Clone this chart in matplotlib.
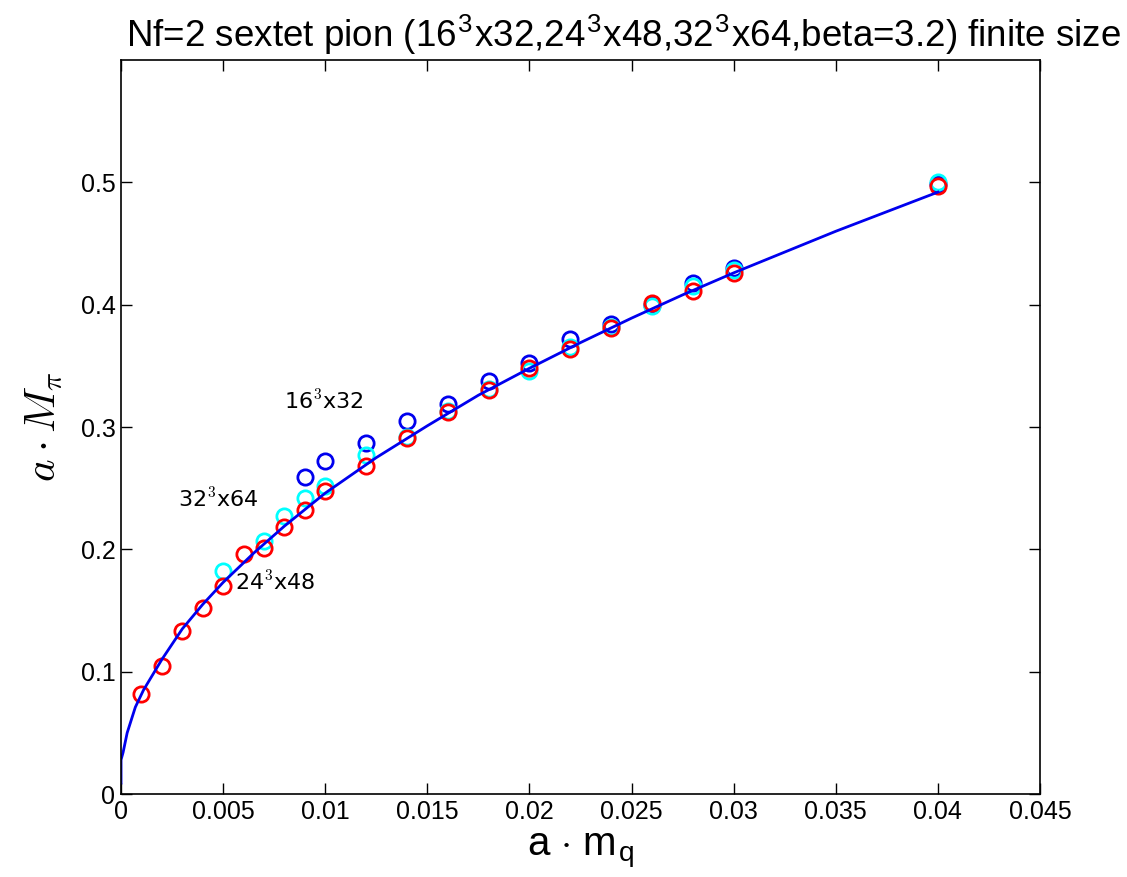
import matplotlib
matplotlib.use("Agg")
import matplotlib.pyplot as plt

plt.rcParams['font.family'] = ['Liberation Sans', 'DejaVu Sans']
plt.rcParams['mathtext.fontset'] = 'cm'

# quark mass values
mq_16 = [0.009, 0.010, 0.012, 0.014, 0.016, 0.018, 0.020, 0.022, 0.024, 0.026, 0.028, 0.030, 0.040]
mpi_16 = [0.259, 0.272, 0.287, 0.305, 0.319, 0.338, 0.352, 0.372, 0.384, 0.400, 0.418, 0.430, 0.499]

mq_32 = [0.005, 0.007, 0.008, 0.009, 0.010, 0.012, 0.014, 0.016, 0.018, 0.020, 0.022, 0.024, 0.026, 0.028, 0.030, 0.040]
mpi_32 = [0.182, 0.207, 0.227, 0.242, 0.252, 0.277, 0.292, 0.313, 0.331, 0.346, 0.365, 0.382, 0.399, 0.415, 0.428, 0.500]

mq_24 = [0.001, 0.002, 0.003, 0.004, 0.005, 0.006, 0.007, 0.008, 0.009, 0.010, 0.012, 0.014, 0.016,
         0.018, 0.020, 0.022, 0.024, 0.026, 0.028, 0.030, 0.040]
mpi_24 = [0.082, 0.105, 0.133, 0.152, 0.170, 0.196, 0.201, 0.218, 0.232, 0.248, 0.268, 0.291, 0.312,
          0.330, 0.348, 0.364, 0.381, 0.401, 0.411, 0.426, 0.497]

# fit curve
fit_x = [0.0, 0.0, 0.0001, 0.0003, 0.0007, 0.0011, 0.002, 0.003, 0.004, 0.005, 0.0065, 0.008, 0.010,
         0.0125, 0.015, 0.0175, 0.020, 0.0225, 0.025, 0.0275, 0.030, 0.035, 0.040]
fit_y = [0.009, 0.028, 0.034, 0.050, 0.071, 0.085, 0.110, 0.135, 0.155, 0.173, 0.197, 0.219, 0.246,
         0.275, 0.301, 0.326, 0.348, 0.369, 0.389, 0.408, 0.426, 0.460, 0.492]

fig = plt.figure(figsize=(11.27, 8.77), dpi=100)
ax = fig.add_axes([0.1074, 0.0946, 0.8154, 0.837])

mk = dict(marker='o', linestyle='none', markerfacecolor='none', markersize=11, markeredgewidth=2)
ax.plot(mq_16, mpi_16, markeredgecolor='#0000ee', **mk)
ax.plot(mq_32, mpi_32, markeredgecolor='#00ffff', **mk)
ax.plot(mq_24, mpi_24, markeredgecolor='#ff0000', **mk)
ax.plot(fit_x, fit_y, color='#0000ee', lw=2)

ax.text(0.0080, 0.321, '16$^3$x32', fontsize=16, family='DejaVu Sans', va='center')
ax.text(0.0028, 0.241, '32$^3$x64', fontsize=16, family='DejaVu Sans', va='center')
ax.text(0.0056, 0.173, '24$^3$x48', fontsize=16, family='DejaVu Sans', va='center')

ax.set_xlim(0, 0.045)
ax.set_ylim(0, 0.6)
ax.set_xticks([0, 0.005, 0.01, 0.015, 0.02, 0.025, 0.03, 0.035, 0.04, 0.045])
ax.set_xticklabels(['0', '0.005', '0.01', '0.015', '0.02', '0.025', '0.03', '0.035', '0.04', '0.045'])
ax.set_yticks([0, 0.1, 0.2, 0.3, 0.4, 0.5])
ax.set_yticklabels(['0', '0.1', '0.2', '0.3', '0.4', '0.5'])
ax.tick_params(direction='in', top=True, right=True, length=8, width=1, labelsize=18, pad=4)
for s in ax.spines.values():
    s.set_linewidth(1.2)

ax.set_xlabel(r'a $\cdot$ m$_\mathregular{q}$', fontsize=29, labelpad=6)
ax.set_ylabel(r'$a \cdot M_\pi$', fontsize=31, labelpad=12)
fig.text(0.553, 0.960, 'Nf=2 sextet pion (16$^\\mathregular{3}$x32,24$^\\mathregular{3}$x48,32$^\\mathregular{3}$x64,beta=3.2) finite size',
         fontsize=26.5, ha='center', va='center')

fig.savefig('out.png', dpi=100)
